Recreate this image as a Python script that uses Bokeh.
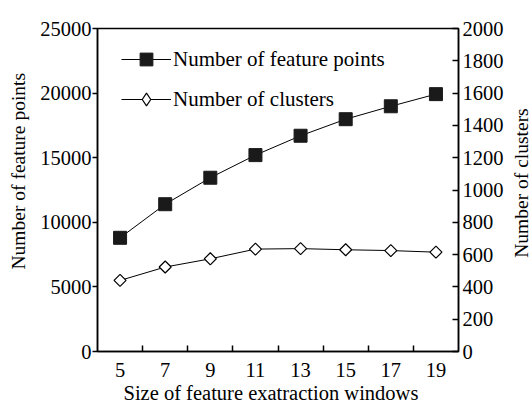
import math
from bokeh.plotting import figure
from bokeh.models import (Range1d, LinearAxis, FixedTicker, Legend, LegendItem,
                          Title, Label, ColumnDataSource)
from bokeh.embed import file_html
from bokeh.resources import INLINE

# ---- data ----
window_sizes = [5, 7, 9, 11, 13, 15, 17, 19]
feature_points = [8800, 11400, 13450, 15200, 16700, 17980, 18980, 19920]
clusters = [440, 523, 574, 634, 637, 630, 625, 615]
x_ticks = [5, 7, 9, 11, 13, 15, 17, 19]
x_minor = [6, 8, 10, 12, 14, 16, 18]
left_ticks = [0, 5000, 10000, 15000, 20000, 25000]
right_ticks = [0, 200, 400, 600, 800, 1000, 1200, 1400, 1600, 1800, 2000]
x_title = "Size of feature exatraction windows"
left_title = "Number of feature points"
right_title = "Number of clusters"

FONT = "Liberation Serif"
W, H = 530, 403
BL, BR, BT, BB = 96, 72, 28, 51
X0, X1, Y0, Y1 = 4, 20, 0, 25000

src = ColumnDataSource(dict(x=window_sizes, fp=feature_points, cl=clusters))

p = figure(width=W, height=H, output_backend="svg", toolbar_location=None,
           x_range=Range1d(X0, X1), y_range=Range1d(Y0, Y1),
           min_border_left=BL, min_border_right=BR, min_border_top=BT,
           min_border_bottom=BB, x_axis_type=None, y_axis_type=None)
p.extra_y_ranges = {"right": Range1d(0, 2000)}
p.xgrid.visible = False
p.ygrid.visible = False
p.outline_line_color = "black"
p.outline_line_width = 1.5
p.background_fill_color = "white"
p.border_fill_color = "white"

# x axis
xa = LinearAxis(ticker=FixedTicker(ticks=x_ticks, minor_ticks=x_minor))
xa.major_tick_line_color = None
xa.major_tick_in = 0
xa.major_tick_out = 0
xa.minor_tick_in = 6
xa.minor_tick_out = 0
xa.minor_tick_line_width = 1.5
xa.minor_tick_line_color = "black"
xa.axis_line_width = 1.5
xa.major_label_standoff = 11
xa.major_label_text_font = FONT
xa.major_label_text_font_size = "20.5px"
xa.major_label_text_color = "black"
p.add_layout(xa, "below")

# left axis
ya = LinearAxis(ticker=FixedTicker(ticks=left_ticks, minor_ticks=[]))
ya.major_tick_in = 0
ya.major_tick_out = 5
ya.major_tick_line_width = 1.5
ya.minor_tick_line_color = None
ya.axis_line_width = 1.5
ya.major_label_standoff = 1
ya.major_label_text_font = FONT
ya.major_label_text_font_size = "20.5px"
ya.major_label_text_color = "black"
p.add_layout(ya, "left")

# right axis
ra = LinearAxis(y_range_name="right", ticker=FixedTicker(ticks=right_ticks, minor_ticks=[]))
ra.major_tick_in = 6
ra.major_tick_out = 0
ra.major_tick_line_width = 1.5
ra.minor_tick_line_color = None
ra.axis_line_width = 1.5
ra.major_label_standoff = 4
ra.major_label_text_font = FONT
ra.major_label_text_font_size = "20.5px"
ra.major_label_text_color = "black"
p.add_layout(ra, "right")

# axis titles on the left and below
p.add_layout(Title(text=x_title, align="left", offset=26, standoff=0,
                   text_font=FONT, text_font_size="20.5px",
                   text_font_style="normal", text_color="black"), "below")
p.add_layout(Title(text=left_title, align="left", offset=82, standoff=14,
                   vertical_align="top",
                   text_font=FONT, text_font_size="19.5px",
                   text_font_style="normal", text_color="black"), "left")

# right title: reads bottom-to-top, close to the page's right edge
fw = W - BL - BR
fh = H - BT - BB
rx = X0 + (W - 9 - BL) / fw * (X1 - X0)
ry = Y0 + (H - BB - 183) / fh * (Y1 - Y0)
p.add_layout(Label(x=rx, y=ry, text=right_title, angle=90, angle_units="deg",
                   text_align="center", text_baseline="alphabetic",
                   text_font=FONT, text_font_size="19.5px",
                   text_color="black"), "right")

# series
l1 = p.line("x", "fp", source=src, line_color="black", line_width=1)
m1 = p.scatter("x", "fp", source=src, marker="square", size=13,
               fill_color="#1a1a1a", line_color="#1a1a1a")
l2 = p.line("x", "cl", source=src, y_range_name="right", line_color="black", line_width=1)
m2 = p.scatter("x", "cl", source=src, y_range_name="right", marker="square",
               angle=math.pi / 4, size=8.5, fill_color="white",
               line_color="black", line_width=1.2)
# legend-only diamond
m2_leg = p.scatter("x", "cl", source=src, y_range_name="right", marker="diamond",
                   size=13, fill_color="white", line_color="black", line_width=1.2,
                   visible=False)

legend = Legend(items=[
    LegendItem(label="Number of feature points", renderers=[l1, m1]),
    LegendItem(label="Number of clusters", renderers=[l2, m2_leg]),
], location=(24, 236))
legend.margin = 0
legend.padding = 0
legend.glyph_width = 50
legend.glyph_height = 32
legend.label_height = 32
legend.spacing = 8
legend.label_standoff = 2
legend.border_line_color = None
legend.background_fill_alpha = 0
legend.label_text_font = FONT
legend.label_text_font_size = "21px"
legend.label_text_color = "black"
legend.click_policy = "none"
p.add_layout(legend, "center")

open("out.html", "w").write(file_html(p, INLINE))
